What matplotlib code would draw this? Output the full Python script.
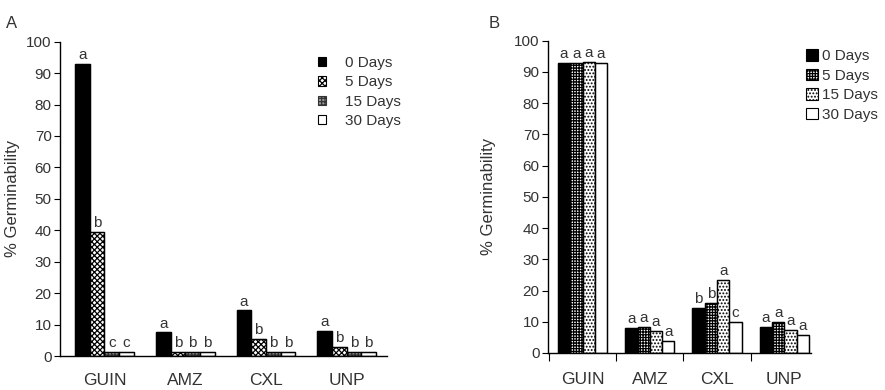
import matplotlib
matplotlib.use("Agg")
import matplotlib.pyplot as plt
from matplotlib.patches import Patch
import numpy as np

categories = ["GUIN", "AMZ", "CXL", "UNP"]
series = ["0 Days", "5 Days", "15 Days", "30 Days"]

# Panel A values
a_0 = [93, 7.5, 14.5, 8]
a_5 = [39.5, 1.2, 5.5, 3]
a_15 = [1.2, 1.2, 1.2, 1.2]
a_30 = [1.2, 1.2, 1.2, 1.2]
a_letters = [["a", "b", "c", "c"], ["a", "b", "b", "b"], ["a", "b", "b", "b"], ["a", "b", "b", "b"]]

# Panel B values
b_0 = [93, 8, 14.3, 8.3]
b_5 = [93, 8.3, 16, 10]
b_15 = [93.3, 7, 23.3, 7.5]
b_30 = [93, 4, 10, 5.8]
b_letters = [["a", "a", "a", "a"], ["a", "a", "a", "a"], ["b", "b", "a", "c"], ["a", "a", "a", "a"]]

yticks = list(range(0, 101, 10))

plt.rcParams['font.family'] = ['Liberation Sans Narrow', 'Liberation Sans', 'DejaVu Sans']
plt.rcParams['hatch.linewidth'] = 0.9
TXT = '#333333'

W, H = 885, 390
fig = plt.figure(figsize=(W / 100, H / 100), dpi=100)

def ax_rect(l, r, t, b):
    return [l / W, 1 - b / H, (r - l) / W, (b - t) / H]

axA = fig.add_axes(ax_rect(60, 387, 41.7, 356))
axB = fig.add_axes(ax_rect(548, 811, 40.7, 353))

styleA = [
    dict(facecolor='black', edgecolor='black', hatch=None),
    dict(facecolor='white', edgecolor='black', hatch='xxxxxx'),
    dict(facecolor='#999999', edgecolor='#333333', hatch='+++++'),
    dict(facecolor='white', edgecolor='black', hatch=None),
]
styleB = [
    dict(facecolor='black', edgecolor='black', hatch=None),
    dict(facecolor='white', edgecolor='black', hatch='++++++'),
    dict(facecolor='white', edgecolor='black', hatch='.....'),
    dict(facecolor='white', edgecolor='black', hatch=None),
]

def draw(ax, data, letters, styles, width, xlim):
    x = np.arange(len(categories))
    n = len(data)
    for i, vals in enumerate(data):
        pos = x + (i - (n - 1) / 2) * width
        st = styles[i]
        ax.bar(pos, vals, width, color=st['facecolor'], edgecolor=st['edgecolor'],
               hatch=st['hatch'], linewidth=0.8)
        ax.bar(pos, vals, width, fill=False, edgecolor='black', linewidth=1.0)
        for j, v in enumerate(vals):
            ax.text(pos[j], v + 0.6, letters[j][i], ha='center', va='bottom',
                    fontsize=11, color=TXT)
    ax.set_ylim(0, 100)
    ax.set_xlim(*xlim)
    ax.set_yticks(yticks)
    ax.tick_params(axis='y', direction='out', length=4, width=0.8, labelsize=11,
                   labelcolor=TXT, pad=2)
    for s in ['top', 'right']:
        ax.spines[s].set_visible(False)
    ax.spines['left'].set_linewidth(1.0)
    ax.spines['bottom'].set_linewidth(1.0)
    ax.set_ylabel("% Germinability", fontsize=12, color=TXT)

draw(axA, [a_0, a_5, a_15, a_30], a_letters, styleA, 0.182, (-0.551, 3.50))
draw(axB, [b_0, b_5, b_15, b_30], b_letters, styleB, 0.183, (-0.513, 3.395))

# Panel A x axis: labels without ticks
axA.set_xticks(np.arange(len(categories)))
axA.set_xticklabels(categories)
axA.tick_params(axis='x', length=0, pad=12, labelsize=12.5, labelcolor=TXT)
axA.yaxis.set_label_coords(-0.122, 0.5)

# Panel B x axis: ticks at group boundaries, labels centered
axB.set_xticks(np.arange(len(categories)) - 0.5)
axB.set_xticklabels([])
axB.set_xticks(np.arange(len(categories)), minor=True)
axB.set_xticklabels(categories, minor=True)
axB.tick_params(axis='x', which='major', direction='out', length=6, width=0.8)
axB.tick_params(axis='x', which='minor', length=0, pad=14, labelsize=12.5, labelcolor=TXT)
axB.yaxis.set_label_coords(-0.198, 0.5)

# Legends
hA = [Patch(facecolor=s['facecolor'], edgecolor='black' if s['hatch'] is None else s['edgecolor'],
            hatch=s['hatch'], linewidth=0.8) for s in styleA]
legA = axA.legend(hA, series, loc='upper left', bbox_to_anchor=(318 / W, 1 - 56 / H),
                  bbox_transform=fig.transFigure, frameon=False, fontsize=11,
                  handlelength=0.55, handleheight=0.55, handletextpad=1.2,
                  labelspacing=0.35, borderpad=0, borderaxespad=0)
for t in legA.get_texts():
    t.set_color(TXT)

hB = [Patch(facecolor=s['facecolor'], edgecolor='black', hatch=s['hatch'], linewidth=0.8) for s in styleB]
legB = axB.legend(hB, series, loc='upper left', bbox_to_anchor=(806 / W, 1 - 49 / H),
                  bbox_transform=fig.transFigure, frameon=False, fontsize=11,
                  handlelength=0.8, handleheight=0.8, handletextpad=0.25,
                  labelspacing=0.35, borderpad=0, borderaxespad=0)
for t in legB.get_texts():
    t.set_color(TXT)

fig.text(12 / W, 1 - 23 / H, "A", fontsize=12, color=TXT, va='center', ha='center')
fig.text(494 / W, 1 - 23 / H, "B", fontsize=12, color=TXT, va='center', ha='center')

fig.savefig("out.png", dpi=100)
